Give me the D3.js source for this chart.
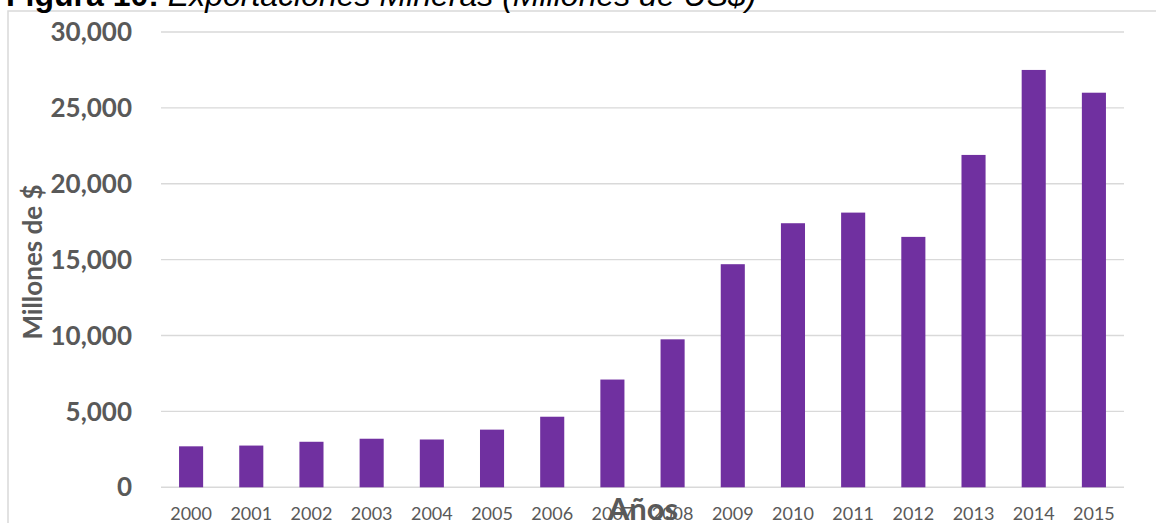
<!DOCTYPE html>
<meta charset="utf-8">
<script src="https://d3js.org/d3.v7.min.js"></script>
<style>
    body { margin: 0; background: #fff; }
    .grid line { stroke: #d9d9d9; stroke-width: 1.4; }
    .y_tick { font-family: Lato, sans-serif; font-weight: bold; font-size: 26px; fill: #595959; }
    .x_tick { font-family: Lato, sans-serif; font-size: 18px; fill: #595959; }
    .axis_title { font-family: Lato, sans-serif; font-weight: bold; fill: #595959; }
    .bar { fill: #7030a0; }
    #title_text { font-family: "Liberation Sans", Arial, sans-serif; font-size: 32px; fill: #000; }
</style>
<div id="my_dataviz"></div>
<script>
// values (millions of US$)
const years = ["2000", "2001", "2002", "2003", "2004", "2005", "2006", "2007",
               "2008", "2009", "2010", "2011", "2012", "2013", "2014", "2015"];
const exports = [2700, 2750, 3000, 3200, 3150, 3800, 4650, 7100,
                 9750, 14700, 17400, 18100, 16500, 21900, 27500, 26000];
const yTicks = [0, 5000, 10000, 15000, 20000, 25000, 30000];

const width = 1156, height = 523;
const plot = {left: 161, right: 1124, top: 32, bottom: 487.3};

const svg = d3.select("#my_dataviz").append("svg")
    .attr("width", width)
    .attr("height", height);

const x = d3.scaleBand().domain(years).range([plot.left, plot.right])
    .paddingInner(0.6).paddingOuter(0.3);
const y = d3.scaleLinear().domain([0, 30000]).range([plot.bottom, plot.top]);
const fmt = d3.format(",");

// chart area border (only top and left show inside the crop)
svg.append("path")
    .attr("d", "M8," + height + "V11H" + width)
    .attr("fill", "none")
    .attr("stroke", "#d9d9d9")
    .attr("stroke-width", 1.5);

// title, cut at the top like the source
const title = svg.append("text").attr("id", "title_text").attr("x", 6).attr("y", 6);
title.append("tspan").attr("font-weight", "bold").text("Figura 10:");
title.append("tspan").attr("font-style", "italic").text(" Exportaciones Mineras (Millones de US$)");

// gridlines
svg.append("g").attr("class", "grid")
    .selectAll("line").data(yTicks).join("line")
    .attr("x1", plot.left).attr("x2", plot.right)
    .attr("y1", d => y(d)).attr("y2", d => y(d));

// y tick labels
svg.append("g")
    .selectAll("text").data(yTicks).join("text")
    .attr("class", "y_tick")
    .attr("x", 132)
    .attr("y", d => y(d))
    .attr("dy", "0.35em")
    .attr("text-anchor", "end")
    .text(d => fmt(d));

// bars
svg.append("g")
    .selectAll("rect").data(exports).join("rect")
    .attr("class", "bar")
    .attr("x", (d, i) => x(years[i]))
    .attr("width", x.bandwidth())
    .attr("y", d => y(d))
    .attr("height", d => y(0) - y(d));

// x tick labels
svg.append("g")
    .selectAll("text").data(years).join("text")
    .attr("class", "x_tick")
    .attr("x", d => x(d) + x.bandwidth() / 2)
    .attr("y", 520)
    .attr("text-anchor", "middle")
    .text(d => d);

// axis titles
svg.append("text").attr("class", "axis_title")
    .attr("x", 643).attr("y", 520)
    .attr("text-anchor", "middle")
    .style("font-size", "31px")
    .text("Años");

svg.append("text").attr("class", "axis_title")
    .attr("transform", "translate(42,262) rotate(-90)")
    .attr("text-anchor", "middle")
    .style("font-size", "26px")
    .text("Millones de $");
</script>
